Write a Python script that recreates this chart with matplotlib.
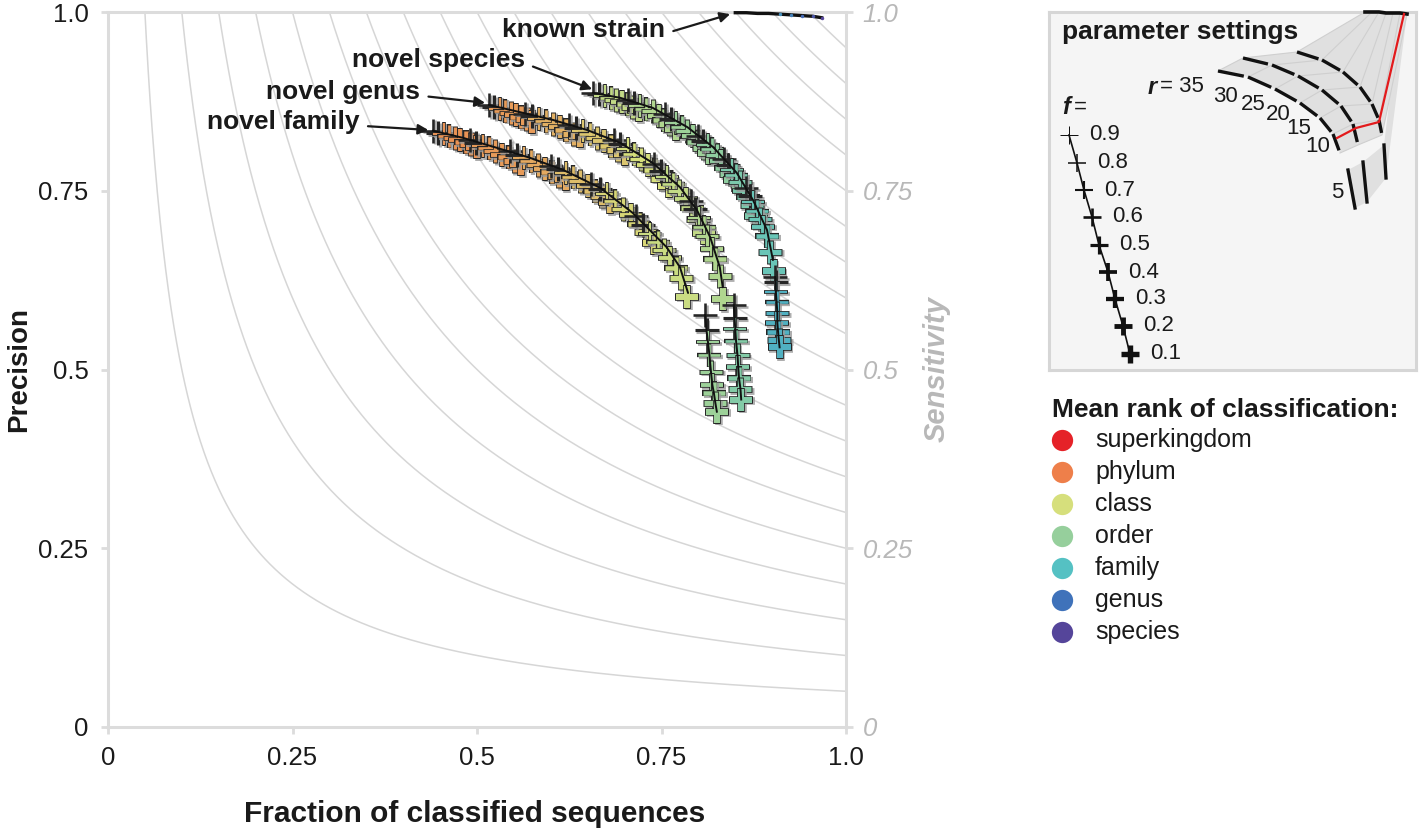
import numpy as np
import matplotlib
matplotlib.use('Agg')
import matplotlib.pyplot as plt
from matplotlib.colors import LinearSegmentedColormap
from matplotlib import transforms

plt.rcParams['font.family'] = ['Liberation Sans', 'DejaVu Sans']

# ---------------- data ----------------
rank_names = ['superkingdom', 'phylum', 'class', 'order', 'family', 'genus', 'species']
rank_colors = ['#E52228', '#EE7F4A', '#D6DF7C', '#96CF9C', '#55C1C3', '#3F72BA', '#55459A']

f_levels = [0.9, 0.8, 0.7, 0.6, 0.5, 0.4, 0.3, 0.2, 0.1]
r_levels = [35, 30, 25, 20, 15, 10, 5]
sensitivity_levels = [0.05, 0.10, 0.15, 0.20, 0.25, 0.30, 0.35, 0.40, 0.45, 0.50,
                      0.55, 0.60, 0.65, 0.70, 0.75, 0.80, 0.85, 0.90, 0.95]
axis_ticks = [0, 0.25, 0.5, 0.75, 1.0]
axis_ticklabels = ['0', '0.25', '0.5', '0.75', '1.0']

# novel family: one block of 9 f-values per r value (35 ... 5)
family_x = [0.440, 0.447, 0.455, 0.462, 0.470, 0.477, 0.485, 0.492, 0.500,
            0.490, 0.499, 0.508, 0.516, 0.525, 0.534, 0.543, 0.551, 0.560,
            0.545, 0.554, 0.564, 0.573, 0.582, 0.592, 0.601, 0.611, 0.620,
            0.600, 0.610, 0.620, 0.630, 0.640, 0.650, 0.660, 0.670, 0.680,
            0.655, 0.666, 0.676, 0.687, 0.698, 0.708, 0.719, 0.729, 0.740,
            0.715, 0.725, 0.735, 0.745, 0.754, 0.762, 0.770, 0.777, 0.785,
            0.809, 0.811, 0.813, 0.815, 0.817, 0.819, 0.821, 0.823, 0.825]
family_y = [0.834, 0.831, 0.829, 0.826, 0.824, 0.821, 0.818, 0.815, 0.811,
            0.821, 0.817, 0.813, 0.810, 0.805, 0.800, 0.797, 0.792, 0.787,
            0.805, 0.800, 0.796, 0.791, 0.786, 0.781, 0.776, 0.770, 0.766,
            0.785, 0.780, 0.775, 0.769, 0.763, 0.756, 0.749, 0.742, 0.734,
            0.760, 0.753, 0.746, 0.736, 0.725, 0.716, 0.704, 0.692, 0.677,
            0.715, 0.702, 0.690, 0.678, 0.667, 0.656, 0.642, 0.628, 0.602,
            0.576, 0.555, 0.538, 0.520, 0.497, 0.478, 0.467, 0.453, 0.441]
family_rank = [2.2, 2.3, 2.45, 2.65, 2.9, 3.2, 3.9]
family_line_x = [0.440, 0.481, 0.527, 0.572, 0.617, 0.667, 0.711, 0.734, 0.757, 0.775, 0.786]
family_line_y = [0.834, 0.824, 0.810, 0.796, 0.779, 0.754, 0.719, 0.695, 0.671, 0.643, 0.607]

# novel genus
genus_x = [0.516, 0.523, 0.531, 0.538, 0.546, 0.553, 0.560, 0.568, 0.575,
           0.565, 0.574, 0.584, 0.593, 0.603, 0.612, 0.621, 0.631, 0.640,
           0.625, 0.634, 0.644, 0.653, 0.662, 0.672, 0.681, 0.691, 0.700,
           0.685, 0.694, 0.704, 0.713, 0.722, 0.732, 0.741, 0.751, 0.760,
           0.740, 0.749, 0.757, 0.766, 0.774, 0.783, 0.791, 0.800, 0.808,
           0.790, 0.796, 0.801, 0.807, 0.812, 0.818, 0.823, 0.829, 0.834,
           0.848, 0.849, 0.850, 0.851, 0.853, 0.854, 0.855, 0.857, 0.858]
genus_y = [0.870, 0.867, 0.865, 0.862, 0.859, 0.856, 0.853, 0.850, 0.846,
           0.858, 0.855, 0.851, 0.847, 0.844, 0.839, 0.835, 0.830, 0.826,
           0.842, 0.838, 0.834, 0.829, 0.824, 0.819, 0.813, 0.807, 0.801,
           0.821, 0.815, 0.808, 0.801, 0.794, 0.786, 0.779, 0.767, 0.757,
           0.787, 0.778, 0.769, 0.760, 0.750, 0.739, 0.726, 0.710, 0.691,
           0.735, 0.724, 0.712, 0.699, 0.687, 0.669, 0.654, 0.631, 0.598,
           0.590, 0.572, 0.556, 0.540, 0.520, 0.503, 0.488, 0.473, 0.458]
genus_rank = [2.3, 2.5, 2.75, 3.0, 3.3, 3.6, 4.3]
genus_line_x = [0.516, 0.558, 0.603, 0.649, 0.694, 0.738, 0.775, 0.798, 0.816, 0.829, 0.833]
genus_line_y = [0.870, 0.860, 0.849, 0.835, 0.817, 0.789, 0.755, 0.723, 0.685, 0.643, 0.615]

# novel species
species_x = [0.657, 0.665, 0.673, 0.681, 0.689, 0.696, 0.704, 0.712, 0.720,
             0.705, 0.713, 0.721, 0.729, 0.738, 0.746, 0.754, 0.762, 0.770,
             0.755, 0.763, 0.770, 0.778, 0.785, 0.793, 0.800, 0.808, 0.815,
             0.800, 0.806, 0.813, 0.819, 0.825, 0.831, 0.838, 0.844, 0.850,
             0.835, 0.840, 0.846, 0.851, 0.856, 0.862, 0.867, 0.872, 0.878,
             0.865, 0.870, 0.874, 0.879, 0.884, 0.888, 0.893, 0.897, 0.902,
             0.904, 0.905, 0.905, 0.906, 0.907, 0.907, 0.908, 0.909, 0.910]
species_y = [0.887, 0.885, 0.882, 0.880, 0.877, 0.874, 0.871, 0.867, 0.863,
             0.877, 0.873, 0.869, 0.865, 0.861, 0.855, 0.849, 0.843, 0.836,
             0.857, 0.851, 0.845, 0.839, 0.833, 0.826, 0.818, 0.810, 0.803,
             0.827, 0.820, 0.814, 0.808, 0.800, 0.791, 0.782, 0.773, 0.765,
             0.794, 0.786, 0.779, 0.772, 0.762, 0.750, 0.741, 0.730, 0.715,
             0.754, 0.743, 0.734, 0.722, 0.710, 0.700, 0.687, 0.665, 0.638,
             0.629, 0.622, 0.608, 0.594, 0.579, 0.565, 0.552, 0.541, 0.531]
species_rank = [3.3, 3.6, 3.9, 4.1, 4.4, 4.7, 5.2]
species_line_x = [0.657, 0.694, 0.738, 0.785, 0.820, 0.852, 0.874, 0.893, 0.901]
species_line_y = [0.887, 0.880, 0.866, 0.839, 0.811, 0.775, 0.737, 0.695, 0.653]

# known strain
strain_x = [0.850, 0.865, 0.880, 0.895, 0.910, 0.925, 0.940, 0.955, 0.967]
strain_y = [0.999, 0.999, 0.998, 0.998, 0.997, 0.996, 0.995, 0.994, 0.992]
strain_rank = [5.0, 5.1, 5.2, 5.4, 5.6, 5.8, 6.2, 6.6, 7.0]

# annotation labels: (text, text anchor, arrow tip)
labels = ['known strain', 'novel species', 'novel genus', 'novel family']
label_xy = [(0.755, 0.975), (0.565, 0.933), (0.423, 0.888), (0.341, 0.846)]
label_tip = [(0.843, 0.997), (0.656, 0.892), (0.511, 0.873), (0.434, 0.835)]

# inset schematic (pixel coordinates of the inset panel)
inset_family_x = [1218, 1248, 1275, 1300, 1320, 1333, 1340]
inset_family_y = [71, 77, 89, 103, 118, 134, 153]
inset_genus_x = [1243, 1272, 1298, 1322, 1341, 1353, 1358]
inset_genus_y = [58, 65, 76, 90, 106, 124, 145]
inset_species_x = [1297, 1322, 1343, 1360, 1372, 1379, 1382]
inset_species_y = [52, 60, 72, 87, 104, 120, 135]
inset_strain_x = [1365, 1372, 1379, 1386, 1393, 1400, 1407]
inset_strain_y = [12, 12, 12, 13, 13, 13, 14]
inset_r5_x = [[1348, 1355], [1363, 1367], [1384, 1386]]
inset_r5_y = [[170, 208], [162, 202], [145, 178]]
inset_red_x = [1404, 1379, 1356, 1337]
inset_red_y = [14, 122, 128, 138]
inset_r_label_x = [1225, 1253, 1278, 1299, 1318, 1337]
inset_r_label_y = [97, 105, 115, 128, 147, 192]
inset_f_x = [1069, 1077, 1084, 1092, 1099, 1108, 1115, 1123, 1130]
inset_f_y = [135, 163, 190, 217, 245, 272, 299, 326, 354]

# ---------------- figure ----------------
W, H = 1419, 835
fig = plt.figure(figsize=(W / 100, H / 100), dpi=100)


def box(x0, y0, x1, y1):
    return [x0 / W, 1 - y1 / H, (x1 - x0) / W, (y1 - y0) / H]


cmap = LinearSegmentedColormap.from_list('rank', rank_colors)


def rank_color(r):
    return cmap((r - 1) / 6.0)


GRID = '#D6D6D6'
SPINE = '#DCDCDC'
ax = fig.add_axes(box(108, 12, 846, 727))
ax.set_xlim(0, 1)
ax.set_ylim(0, 1)
xs = np.linspace(0.01, 1, 800)
for s in sensitivity_levels:
    xx = xs[xs >= s]
    ax.plot(np.r_[s, xx], s / np.r_[s, xx], color=GRID, lw=1.1, zorder=1)

for sp in ax.spines.values():
    sp.set_color(SPINE)
    sp.set_linewidth(2.2)
ax.set_xticks(axis_ticks)
ax.set_xticklabels(axis_ticklabels)
ax.set_yticks(axis_ticks)
ax.set_yticklabels(axis_ticklabels)
ax.tick_params(axis='both', length=5, width=2, color=SPINE, labelsize=18.5, labelcolor='#1a1a1a')
ax.tick_params(axis='x', pad=9)
ax.tick_params(axis='y', pad=9)
ax.set_xlabel('Fraction of classified sequences', fontsize=21.5, weight='bold', color='#1a1a1a')
ax.xaxis.set_label_coords(0.497, -0.102)
ax.set_ylabel('Precision', fontsize=20, weight='bold', color='#1a1a1a')
ax.yaxis.set_label_coords(-0.103, 0.5)

ax2 = ax.twinx()
ax2.set_ylim(0, 1)
ax2.set_yticks(axis_ticks)
ax2.set_yticklabels(axis_ticklabels, style='italic')
for sp in ax2.spines.values():
    sp.set_visible(False)
ax2.tick_params(axis='y', length=5, width=2, color=SPINE, labelsize=18.5, labelcolor='#B8B8B8', pad=7)
ax2.set_ylabel('Sensitivity', fontsize=21, weight='bold', style='italic', color='#B8B8B8')
ax2.yaxis.set_label_coords(1.104, 0.5)

# cross markers
width_px = [1.0, 1.5, 2.1, 2.7, 3.3, 3.9, 4.5, 5.2, 6.0]
PT = 0.72
MS = 16.5
shadow = transforms.offset_copy(ax.transData, fig=fig, x=1.8, y=-1.8, units='dots')


def draw_scenario(xv, yv, ranks):
    for k, rk in enumerate(ranks):
        col = rank_color(rk)
        for j, f in enumerate(f_levels):
            i = 9 * k + j
            w = width_px[j]
            ax.plot(xv[i], yv[i], marker='+', ls='none', ms=MS + 1.2, mew=(w + 1.6) * PT,
                    color='#9a9a9a', alpha=0.8, transform=shadow, zorder=3)
            ax.plot(xv[i], yv[i], marker='+', ls='none', ms=MS + 1.2, mew=(w + 1.6) * PT,
                    color='#262626', zorder=3)
            if w >= 1.8:
                ax.plot(xv[i], yv[i], marker='+', ls='none', ms=MS, mew=w * PT,
                        color=col, zorder=3)


for xv, yv, rk in [(family_x, family_y, family_rank),
                   (genus_x, genus_y, genus_rank),
                   (species_x, species_y, species_rank)]:
    draw_scenario(xv, yv, rk)

for lx, ly in [(family_line_x, family_line_y), (genus_line_x, genus_line_y),
               (species_line_x, species_line_y)]:
    ax.plot(lx, ly, color='#111111', lw=1.4, zorder=4, solid_capstyle='round')
for xv, yv in [(family_x, family_y), (genus_x, genus_y), (species_x, species_y)]:
    ax.plot(xv[54:63], yv[54:63], color='#111111', lw=1.4, zorder=4)

# known strain
ax.plot(strain_x, strain_y, color='#111111', lw=2.4, zorder=5, clip_on=False)
for x, y, rk in zip(strain_x[4:], strain_y[4:], strain_rank[4:]):
    ax.plot(x, y, marker='o', ms=2.5, mew=0, color=rank_color(rk), zorder=6, clip_on=False)

# annotations
for t, xy, tip in zip(labels, label_xy, label_tip):
    ax.annotate(t, xy=tip, xytext=xy, ha='right', va='center', fontsize=19, weight='bold',
                color='#1a1a1a', zorder=7,
                arrowprops=dict(arrowstyle='-|>', color='#1a1a1a', lw=1.6, shrinkA=4, shrinkB=0,
                                mutation_scale=15, relpos=(1.0, 0.35)))

# ---------------- inset ----------------
axi = fig.add_axes(box(1049, 12, 1416, 370))
axi.set_xlim(1049, 1416)
axi.set_ylim(370, 12)
axi.set_facecolor('#F5F5F5')
axi.set_xticks([])
axi.set_yticks([])
for sp in axi.spines.values():
    sp.set_color('#D6D6D6')
    sp.set_linewidth(2.2)

FAN = '#E0E0E0'
fam = list(zip(inset_family_x, inset_family_y))
gen = list(zip(inset_genus_x, inset_genus_y))
spe = list(zip(inset_species_x, inset_species_y))
stn = list(zip(inset_strain_x, inset_strain_y))
for a, b in [(fam, gen), (gen, spe), (spe, stn)]:
    poly = np.array(a + b[::-1])
    axi.fill(poly[:, 0], poly[:, 1], color=FAN, lw=0, zorder=1)
r5 = [list(zip(x, y)) for x, y in zip(inset_r5_x, inset_r5_y)]
for a, b in [(r5[0], r5[1]), (r5[1], r5[2])]:
    poly = np.array(a + b[::-1])
    axi.fill(poly[:, 0], poly[:, 1], color=FAN, lw=0, zorder=1)
poly = np.array([r5[2][0], r5[2][1], stn[-1], stn[-2]])
axi.fill(poly[:, 0], poly[:, 1], color=FAN, lw=0, zorder=1)

for i in range(len(fam)):
    px = [fam[i][0], gen[i][0], spe[i][0], stn[i][0]]
    py = [fam[i][1], gen[i][1], spe[i][1], stn[i][1]]
    axi.plot(px, py, color='#CFCFCF', lw=0.8, zorder=2)

for arc in (fam, gen, spe):
    arr = np.array(arc, dtype=float)
    for i in range(len(arr) - 1):
        p, q = arr[i], arr[i + 1]
        e = p + 0.86 * (q - p)
        axi.plot([p[0], e[0]], [p[1], e[1]], color='#111111', lw=2.4, zorder=3,
                 solid_capstyle='butt')
for seg in r5:
    arr = np.array(seg)
    axi.plot(arr[:, 0], arr[:, 1], color='#111111', lw=2.4, zorder=3)
axi.plot(inset_strain_x, inset_strain_y, color='#111111', lw=2.6, zorder=3, clip_on=False)
axi.plot(inset_red_x, inset_red_y, color='#E31A1C', lw=1.6, zorder=4)

axi.text(1062, 32, 'parameter settings', fontsize=19, weight='bold', ha='left', va='center',
         color='#1a1a1a')
axi.text(1148, 87, 'r', fontsize=17, weight='bold', style='italic', ha='left', va='center',
         color='#1a1a1a')
axi.text(1160, 87, '= 35', fontsize=16, ha='left', va='center', color='#1a1a1a')
for lab, x, y in zip(r_levels[1:], inset_r_label_x, inset_r_label_y):
    axi.text(x, y, str(lab), fontsize=16, ha='center', va='center', color='#1a1a1a')

axi.text(1062, 107, 'f', fontsize=17, weight='bold', style='italic', ha='left', va='center',
         color='#1a1a1a')
axi.text(1074, 107, '=', fontsize=16, ha='left', va='center', color='#1a1a1a')
axi.plot(inset_f_x, inset_f_y, color='#111111', lw=1.2, zorder=3)
for j, (x, y, f) in enumerate(zip(inset_f_x, inset_f_y, f_levels)):
    axi.plot(x, y, marker='+', ms=13, mew=(0.9 + 0.5 * j) * PT * 1.1, color='#111111', zorder=4)
    axi.text(x + 20, y, str(f), fontsize=16, ha='left', va='center', color='#1a1a1a')

# ---------------- legend ----------------
ov = fig.add_axes([0, 0, 1, 1])
ov.set_xlim(0, W)
ov.set_ylim(H, 0)
ov.axis('off')
ov.patch.set_alpha(0)
ov.text(1052, 410, 'Mean rank of classification:', fontsize=19, weight='bold', ha='left',
        va='center', color='#1a1a1a')
for i, (name, col) in enumerate(zip(rank_names, rank_colors)):
    y = 440 + 32 * i
    ov.scatter([1062], [y], s=235, color=col, lw=0)
    ov.text(1095, y, name, fontsize=18, ha='left', va='center', color='#1a1a1a')

fig.savefig('out.png', dpi=100)
